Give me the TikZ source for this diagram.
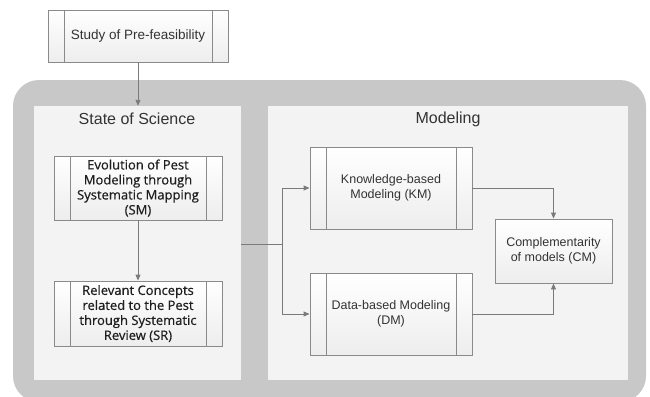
\documentclass[tikz,border=0pt]{standalone}
\usepackage{fontspec}
\setmainfont{Liberation Sans}
\newfontfamily\humfont[FakeBold=0.6]{Open Sans}
\usetikzlibrary{arrows.meta}
\definecolor{outergray}{HTML}{C8C8C8}
\definecolor{panelfill}{HTML}{F3F3F3}
\definecolor{boxline}{HTML}{8A8A8A}
\definecolor{conline}{HTML}{7A7A7A}
\definecolor{txt}{HTML}{333333}
\tikzset{
  procbox/.style={draw=boxline, line width=0.9pt, top color=white, bottom color=black!7,
    minimum width=#1, align=center, text=txt, inner sep=0pt,
    path picture={
      \draw[boxline, line width=0.9pt] ([xshift=16pt]path picture bounding box.north west) -- ([xshift=16pt]path picture bounding box.south west);
      \draw[boxline, line width=0.9pt] ([xshift=-16pt]path picture bounding box.north east) -- ([xshift=-16pt]path picture bounding box.south east);
    }},
  plainbox/.style={draw=boxline, line width=0.9pt, top color=white, bottom color=black!7,
    align=center, text=txt, inner sep=0pt},
  panel/.style={fill=panelfill, draw=none, inner sep=0pt},
  conn/.style={draw=conline, line width=0.9pt},
  tip/.style={-{Triangle[length=6pt,width=5pt]}},
  ptitle/.style={font=\fontsize{16}{18}\selectfont, text=txt, inner sep=0pt},
}
\begin{document}
\begin{tikzpicture}[x=1pt,y=-1pt]
\useasboundingbox (0,0) rectangle (650,396);
\fill[white] (0,0) rectangle (650,396);
% outer container
\fill[outergray, rounded corners=26pt] (13,80) rectangle (646,402);
% panels
\node[panel, minimum width=207pt, minimum height=274pt] (left) at (137.5,243) {};
\node[panel, minimum width=360pt, minimum height=274pt] (right) at (448,243) {};
\node[ptitle] (lt) at (137,119) {State of Science};
\node[ptitle] (rt) at (448,119) {Modeling};
% boxes
\node[procbox=180pt, minimum height=52pt, font=\fontsize{13.5}{16}\selectfont] (pre) at (138,36) {Study of Pre-feasibility};
\node[procbox=168pt, minimum height=64pt, font=\humfont\fontsize{13}{15}\selectfont, text=black!88] (sm) at (138,188) {Evolution of Pest\\Modeling through\\Systematic Mapping\\(SM)};
\node[procbox=168pt, minimum height=65pt, font=\humfont\fontsize{13}{15}\selectfont, text=black!88] (sr) at (138,313.5) {Relevant Concepts\\related to the Pest\\through Systematic\\Review (SR)};
\node[procbox=162pt, minimum height=82pt, font=\fontsize{12.5}{14.5}\selectfont] (km) at (391,188) {Knowledge-based\\Modeling (KM)};
\node[procbox=162pt, minimum height=82pt, font=\fontsize{12.5}{14.5}\selectfont] (dm) at (391,314) {Data-based Modeling\\(DM)};
\node[plainbox, minimum width=117pt, minimum height=64pt, font=\fontsize{12.5}{14.5}\selectfont] (cm) at (553.5,251) {Complementarity\\of models (CM)};
% connectors
\draw[conn, tip] (pre.south) -- (pre.south |- left.north);
\draw[conn, tip] (sm.south) -- (sr.north);
\coordinate (j) at (282,244);
\draw[conn] (j -| left.east) -- (j);
\draw[conn, tip] (j) |- (km.west);
\draw[conn, tip] (j) |- (dm.west);
\draw[conn, tip] (km.east) -| (cm.north);
\draw[conn, tip] (dm.east) -| (cm.south);
\end{tikzpicture}
\end{document}
